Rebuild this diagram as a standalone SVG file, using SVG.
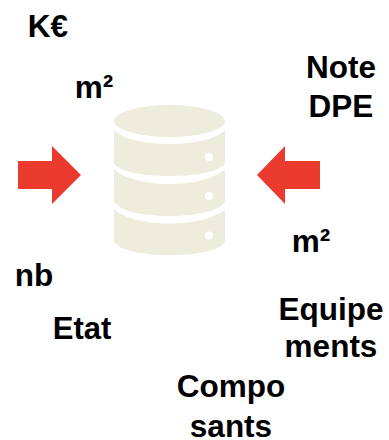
<svg xmlns="http://www.w3.org/2000/svg" width="389" height="440" viewBox="0 0 389 440">
<style>
text{font-family:"Liberation Sans",Arial,sans-serif;font-weight:700;font-size:31.500px;fill:#000;text-anchor:middle}
.d{fill:#eeecdd}
.h{fill:#fff}
.a{fill:#ea3b2e}
</style>
<rect width="389" height="440" fill="#fff"/>
<g id="database">
<ellipse class="d" cx="169.500" cy="121" rx="55.500" ry="16"/>
<path class="d" d="M114 130C123 139 145 144 169.500 144C194 144 216 139 225 130V162C225 170 200 176 169.500 176C139 176 114 170 114 162Z"/>
<path class="d" d="M114 169C123 178 145 184 169.500 184C194 184 216 178 225 169V200C225 209 200 216 169.500 216C139 216 114 209 114 200Z"/>
<path class="d" d="M114 209C123 218 145 223.500 169.500 223.500C194 223.500 216 218 225 209V240C225 249 200 255 169.500 255C139 255 114 249 114 240Z"/>
<circle class="h" cx="209" cy="157" r="4"/>
<circle class="h" cx="209" cy="196" r="4"/>
<circle class="h" cx="209" cy="235.500" r="4"/>
</g>
<g id="connectors">
<path class="a" d="M18 161H52V146L81 175L52 204V189H18Z"/>
<path class="a" d="M320 161H285V146L257 175L285 204V189H320Z"/>
</g>
<g id="label-ke"><text x="48" y="37">K€</text></g>
<g id="label-m2-left"><text x="94" y="98">m²</text></g>
<g id="label-note"><text x="341" y="78">Note</text><text x="341" y="117">DPE</text></g>
<g id="label-m2-right"><text x="311" y="252">m²</text></g>
<g id="label-nb"><text x="34" y="286">nb</text></g>
<g id="label-etat"><text x="82" y="339" style="font-size:31px">Etat</text></g>
<g id="label-equipements"><text x="331" y="319.500">Equipe</text><text x="331" y="357">ments</text></g>
<g id="label-composants"><text x="231" y="397">Compo</text><text x="231" y="436.500">sants</text></g>
</svg>
